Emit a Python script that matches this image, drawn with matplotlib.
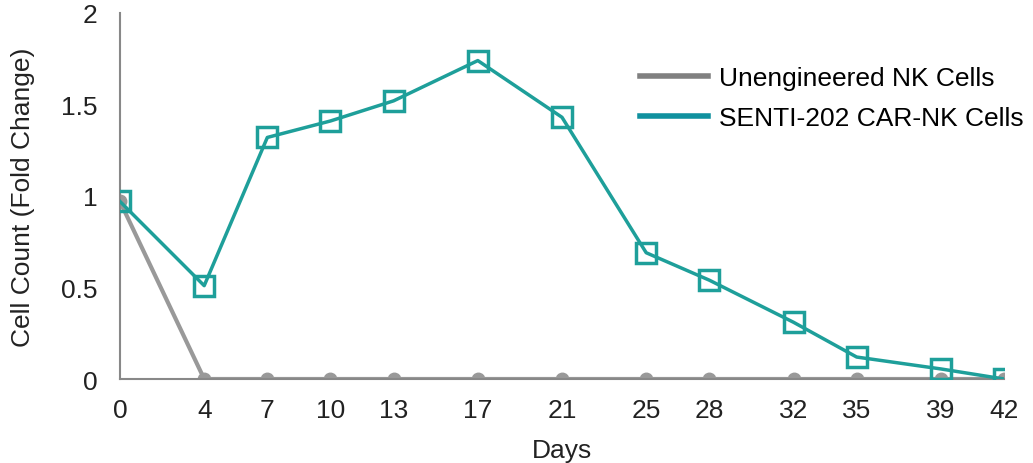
import matplotlib.pyplot as plt

plt.rcParams['font.family'] = ['Liberation Sans', 'DejaVu Sans']

# days sampled
days = [0, 4, 7, 10, 13, 17, 21, 25, 28, 32, 35, 39, 42]
# fold change in cell count
unengineered = [0.97, 0, 0, 0, 0, 0, 0, 0, 0, 0, 0, 0, 0]
senti202 = [0.97, 0.51, 1.32, 1.41, 1.52, 1.74, 1.43, 0.69, 0.54, 0.31, 0.12, 0.055, 0.0]

gray = '#999999'
teal = '#1e9f9a'
fs = 19

fig = plt.figure(figsize=(10.33, 4.64), dpi=100)
ax = fig.add_axes([120 / 1033, 1 - 380 / 464, 884 / 1033, 366 / 464])

ax.plot(days, unengineered, color=gray, lw=3, marker='o', ms=9,
        label='Unengineered NK Cells', zorder=2)
ax.plot(days, senti202, color=teal, lw=2.5, marker='s', ms=14, mfc='none',
        mew=2.5, label='SENTI-202 CAR-NK Cells', zorder=3)

ax.set_xlim(0, 42)
ax.set_ylim(0, 2)
ax.set_xticks(days)
ax.set_yticks([0, 0.5, 1, 1.5, 2])
ax.set_yticklabels(['0', '0.5', '1', '1.5', '2'])
ax.tick_params(length=0, labelsize=fs, colors='#222222')
ax.tick_params(axis='x', pad=14)
ax.tick_params(axis='y', pad=16)

for s in ['top', 'right']:
    ax.spines[s].set_visible(False)
for s in ['left', 'bottom']:
    ax.spines[s].set_color('#888888')
    ax.spines[s].set_linewidth(1.5)

ax.set_xlabel('Days', fontsize=fs, color='#222222', labelpad=11)
ax.set_ylabel('Cell Count (Fold Change)', fontsize=fs, color='#222222', labelpad=19)

leg = ax.legend(loc='upper left', bbox_to_anchor=(0.561, 0.92), frameon=False,
                fontsize=fs, handlelength=2.6, handletextpad=0.4,
                labelspacing=0.6, markerscale=0)
for h in leg.get_lines():
    h.set_marker('')
    h.set_linewidth(4)
leg.get_lines()[0].set_color('#808080')
leg.get_lines()[1].set_color('#10919f')

fig.savefig('out.png', dpi=100)
